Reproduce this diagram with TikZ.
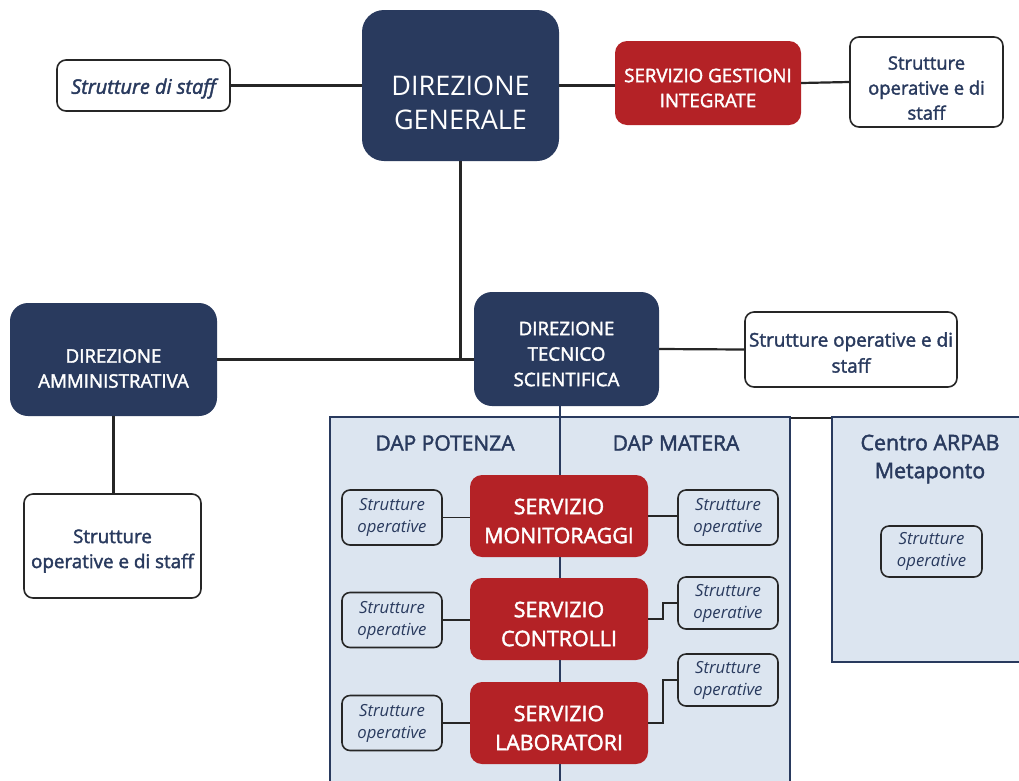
\documentclass[tikz,border=0pt]{standalone}
\usepackage{fontspec}
\setmainfont{Open Sans}
\newfontfamily\semi{Open Sans}[FakeBold=2]
\usepackage{tikz}
\usetikzlibrary{calc}
\definecolor{navy}{HTML}{293A5E}
\definecolor{rosso}{HTML}{B42226}
\definecolor{dapblue}{HTML}{DCE5F0}
\newcommand{\fs}[2]{\fontsize{#1}{#2}\selectfont}

\begin{document}
\begin{tikzpicture}[x=1pt,y=-1pt,
	every node/.style={align=center,inner sep=0pt},
	every label/.style={align=center,inner sep=0pt},
	dir/.style={fill=navy,rounded corners=18pt},
	serv/.style={fill=rosso,rounded corners=12pt},
	staff/.style={draw=black!85,line width=1.6pt,fill=white,rounded corners=9pt},
	small/.style={staff,fill=dapblue,minimum width=100pt,rounded corners=8pt},
	area/.style={draw=navy,line width=1.5pt,fill=dapblue},
	wt/.style={text=white,yshift=-#1},
	nt/.style={text=navy,yshift=-#1},
	it/.style={text=navy,font=\fs{16.7}{22}\itshape}]
	
	\clip (0,0) rectangle (1019,780);
	\fill[white] (0,0) rectangle (1019,780);
	
	%aree
	\node[area,minimum width=460pt,minimum height=375pt] (dap) at (560,604.5){};
	\node[area,minimum width=200pt,minimum height=245pt] (centro) at (932,539.5){};
	\node[text=navy,font=\semi\fs{21}{28}] (pz) at (445,443){DAP POTENZA};
	\node[text=navy,font=\semi\fs{21}{28}] (mt) at (676,443){DAP MATERA};
	\node[text=navy,font=\semi\fs{21.4}{28}] (ct) at (930,459){Centro ARPAB\\Metaponto};
	
	%direzioni
	\node[dir,rounded corners=22pt,minimum width=197pt,minimum height=151pt,
		label={[wt=17pt,font=\fs{27}{34}]center:DIREZIONE\\GENERALE}] (dg) at (460.5,85.5){};
	\node[dir,minimum width=207pt,minimum height=113pt,
		label={[wt=9pt,font=\semi\fs{18.7}{25}]center:DIREZIONE\\AMMINISTRATIVA}] (da) at (113.5,359.5){};
	\node[dir,minimum width=185pt,minimum height=114pt,
		label={[wt=5pt,font=\semi\fs{18.7}{25.5}]center:DIREZIONE\\TECNICO\\SCIENTIFICA}] (dts) at (566.5,349){};
	
	%staff
	\node[staff,minimum width=173pt,minimum height=51pt,
		label={[nt=3pt,font=\semi\itshape\fs{20}{25}]center:Strutture di staff}] (sds) at (143.5,85.5){};
	\node[serv,minimum width=186pt,minimum height=84pt,
		label={[wt=5pt,font=\semi\fs{18.7}{25}]center:SERVIZIO GESTIONI\\INTEGRATE}] (sgi) at (708,83){};
	\node[staff,minimum width=153pt,minimum height=90pt,
		label={[nt=6pt,font=\semi\fs{18.4}{25}]center:Strutture\\operative e di\\staff}] (sot) at (926.5,82){};
	\node[staff,minimum width=212pt,minimum height=75pt,
		label={[nt=3pt,font=\semi\fs{18.9}{26}]center:Strutture operative e di\\staff}] (sod) at (851,349.5){};
	\node[staff,minimum width=177pt,minimum height=104pt,
		label={[nt=5pt,font=\semi\fs{18.8}{25}]center:Strutture\\operative e di staff}] (soa) at (112.5,546){};
	
	%servizi
	\node[serv,minimum width=178pt,minimum height=82pt,
		label={[wt=5pt,font=\semi\fs{21.4}{29}]center:SERVIZIO\\MONITORAGGI}] (sm) at (559,516){};
	\node[serv,minimum width=178pt,minimum height=82pt,
		label={[wt=5pt,font=\semi\fs{21.4}{29}]center:SERVIZIO\\CONTROLLI}] (sc) at (559,619){};
	\node[serv,minimum width=178pt,minimum height=82pt,
		label={[wt=5pt,font=\semi\fs{21.4}{29}]center:SERVIZIO\\LABORATORI}] (sl) at (559,723){};
	
	%divisione DAP
	\draw[navy,line width=1.5pt] ([xshift=1pt]sm.center |- dts.south) -- ([xshift=1pt]sm.north);
	\draw[navy,line width=1.5pt] ([xshift=1pt]sm.south) -- ([xshift=1pt]sc.north);
	\draw[navy,line width=1.5pt] ([xshift=1pt]sc.south) -- ([xshift=1pt]sl.north);
	\draw[navy,line width=1.5pt] ([xshift=1pt]sl.south) -- ([xshift=1pt]sl.south |- dap.south);
	
	\node[small,minimum height=55pt,label={[it]center:Strutture\\operative}] (pm) at (392,517.5){};
	\node[small,minimum height=55pt,label={[it]center:Strutture\\operative}] (pc) at (392,620){};
	\node[small,minimum height=55pt,label={[it]center:Strutture\\operative}] (pl) at (392,723){};
	\node[small,minimum height=55pt,label={[it]center:Strutture\\operative}] (mm) at (728,517.5){};
	\node[small,minimum height=52pt,label={[it]center:Strutture\\operative}] (mc) at (728,603){};
	\node[small,minimum height=52pt,label={[it]center:Strutture\\operative}] (ml) at (728,680){};
	\node[small,minimum width=101pt,minimum height=51pt,label={[it]center:Strutture\\operative}] (cm) at (931.5,551.5){};
	
	\begin{scope}[line width=2.2pt,black!85]
	%collegamenti
	\draw (sds) -- (dg);
	\draw (dg.east) -- (sgi.west |- dg.east);
	\draw (sgi.east) -- (sot.west);
	\draw[line width=3pt] (dg.south) -- (dg.south |- da.east);
	\draw[line width=3pt] (da.east) -- (dts.west |- da.east);
	\draw (dts.east) -- (sod.west);
	\draw (da.south) -- (soa.north -| da.south);
	\draw ([yshift=-1.5pt]dap.north east) -- ([yshift=-1.5pt]centro.north west);
	\end{scope}
	
	\begin{scope}[line width=1.8pt,black!85]
	\draw (pm.east) -- (pm.east -| sm.west);
	\draw (pc.east) -- (pc.east -| sc.west);
	\draw (pl.east) -- (pl.east -| sl.west);
	\draw (sm.east) -- (mm.west |- sm.east);
	\draw (sc.east) -- ++(15,0) |- (mc.west);
	\draw (sl.east) -- ++(15,0) |- (ml.west);
	\end{scope}
	
\end{tikzpicture}
\end{document}
